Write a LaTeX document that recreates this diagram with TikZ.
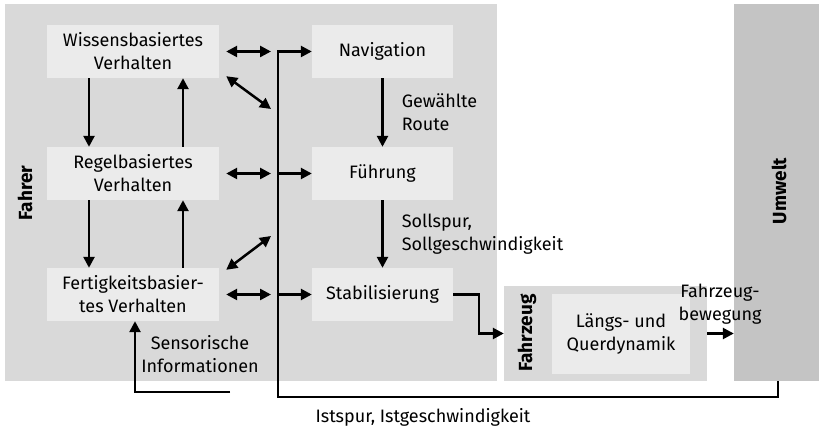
\documentclass[tikz,border=0pt]{standalone}
\usepackage{fontspec}
\setmainfont{Fira Sans}
\usetikzlibrary{arrows.meta,positioning}

\definecolor{fahrergrau}{HTML}{D9D9D9}
\definecolor{umweltgrau}{HTML}{C4C4C4}
\definecolor{blockgrau}{HTML}{EBEBEB}

\tikzset{
  txt/.style={font=\fontsize{18}{23}\selectfont, align=center, inner sep=0pt},
  block/.style={txt, fill=blockgrau, minimum height=53pt},
  bereich/.style={font=\bfseries\fontsize{19}{22}\selectfont, rotate=90},
  pfeil/.style={line width=2.5pt, -{Triangle[length=11pt,width=11pt]}},
  dpfeil/.style={line width=2.5pt, {Triangle[length=11pt,width=11pt]}-{Triangle[length=11pt,width=11pt]}},
}

\begin{document}
\begin{tikzpicture}[x=1pt,y=-1pt]
  \useasboundingbox (0,0) rectangle (819,427);

  % Bereiche
  \node[fill=fahrergrau, minimum width=492pt, minimum height=377pt, inner sep=0pt] (fahrer) at (251,192.5) {};
  \node[fill=umweltgrau, minimum width=85pt, minimum height=377pt, inner sep=0pt] (umwelt) at (776.5,192.5) {};
  \node[fill=fahrergrau, minimum width=203pt, minimum height=95pt, inner sep=0pt] (fahrzeug) at (605.5,333.5) {};
  \node[bereich] (fahrerlabel) at (25,193) {Fahrer};
  \node[bereich] (umweltlabel) at (779,191) {Umwelt};
  \node[bereich] (fahrzeuglabel) at (527,333) {Fahrzeug};

  % Verhaltensebenen
  \node[block, minimum width=172pt] (wissen) at (133,51.5) {Wissensbasiertes\\Verhalten};
  \node[block, minimum width=172pt] (regel) at (133,173.5) {Regelbasiertes\\Verhalten};
  \node[block, minimum width=172pt] (fertig) at (133,294.5) {Fertigkeitsbasier-\\tes Verhalten};

  % Fahraufgabe
  \node[block, minimum width=141pt] (nav) at (382.5,51.5) {Navigation};
  \node[block, minimum width=141pt] (fuehr) at (382.5,173.5) {Führung};
  \node[block, minimum width=141pt] (stab) at (382.5,294.5) {Stabilisierung};
  \node[block, minimum width=138pt, minimum height=80pt] (dynamik) at (621,334) {Längs- und\\Querdynamik};

  \coordinate (bus) at (278,397);
  \coordinate (sens) at (230,392);
  \coordinate (d1) at (271,109);
  \coordinate (d2) at (271,236);

  % Rueckfuehrung
  \draw[pfeil] (umwelt.south -| 778,0) |- (bus) |- (nav.west);
  \draw[pfeil] (fuehr.west -| bus) -- (fuehr.west);
  \draw[pfeil] (stab.west -| bus) -- (stab.west);
  \node[txt] (ist) at (423,417) {Istspur, Istgeschwindigkeit};

  % Verhalten <-> Fahraufgabe
  \draw[dpfeil] ([xshift=7pt]wissen.east) -- ([xshift=-7pt]wissen.east -| bus);
  \draw[dpfeil] ([xshift=7pt]regel.east) -- ([xshift=-7pt]regel.east -| bus);
  \draw[dpfeil] ([xshift=7pt]fertig.east) -- ([xshift=-7pt]fertig.east -| bus);
  \draw[dpfeil] ([shift={(7pt,2pt)}]wissen.south east) -- (d1);
  \draw[dpfeil] ([shift={(7pt,-2pt)}]fertig.north east) -- (d2);

  % zwischen den Ebenen
  \draw[pfeil] ([xshift=-44pt]wissen.south) -- ([xshift=-44pt]regel.north);
  \draw[pfeil] ([xshift=50pt]regel.north) -- ([xshift=50pt]wissen.south);
  \draw[pfeil] ([xshift=-44pt]regel.south) -- ([xshift=-44pt]fertig.north);
  \draw[pfeil] ([xshift=50pt]fertig.north) -- ([xshift=50pt]regel.south);

  % Sensorik
  \draw[pfeil] (sens) -| ([xshift=2pt]fertig.south);
  \node[txt] (senslabel) at (200,354) {Sensorische\\Informationen};

  % Sollgroessen
  \draw[pfeil] (nav) -- (fuehr) node[midway, right=18pt, txt, align=left] (route) {Gewählte\\Route};
  \draw[pfeil] (fuehr) -- (stab) node[midway, right=18pt, txt, align=left] (soll) {Sollspur,\\Sollgeschwindigkeit};

  % Fahrzeug
  \draw[pfeil] (stab.east) -- ++(26,0) |- (fahrzeug.west);
  \draw[pfeil] (fahrzeug.east) -- (fahrzeug.east -| umwelt.west);
  \node[txt] (bewegung) at (720,304) {Fahrzeug-\\bewegung};
\end{tikzpicture}
\end{document}
